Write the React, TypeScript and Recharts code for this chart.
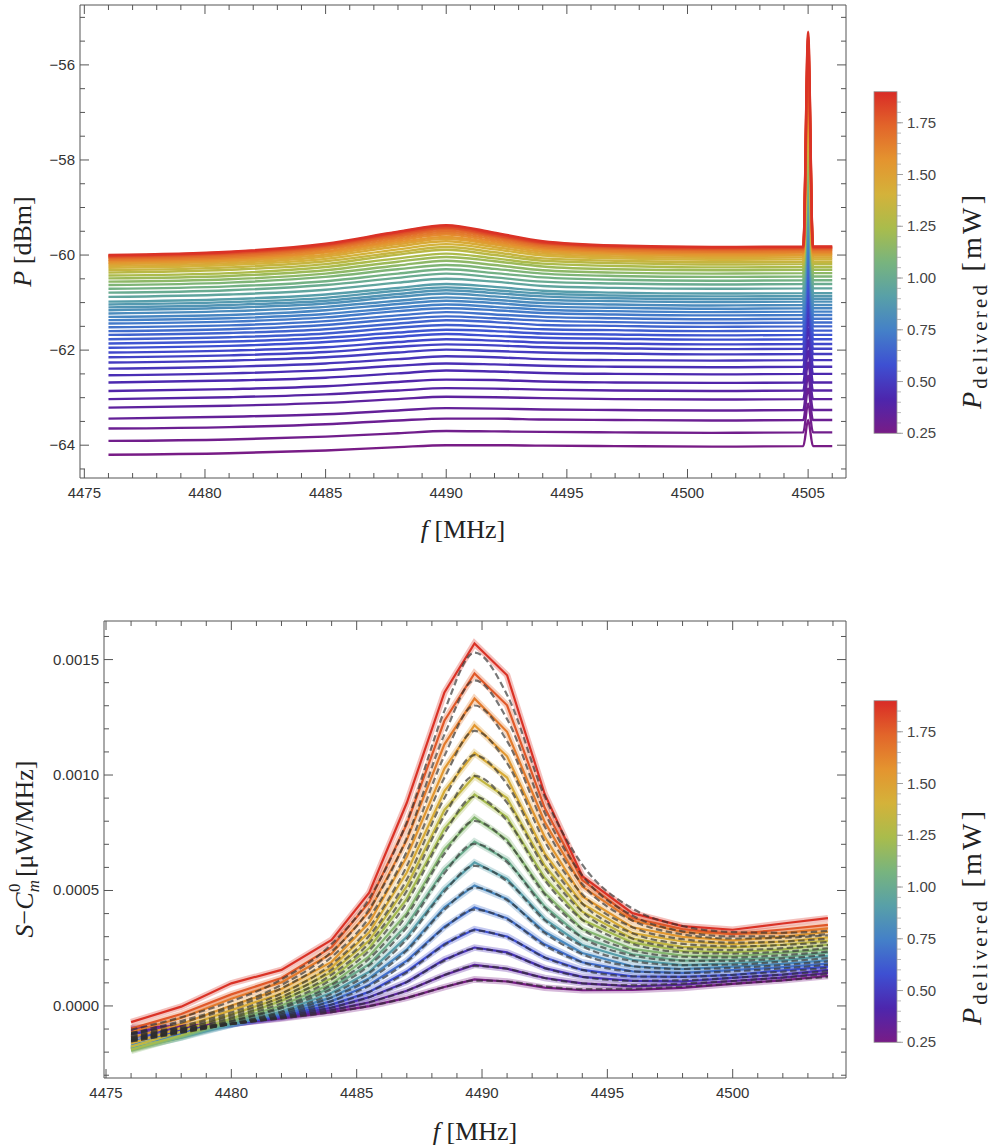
import React from 'react'
import { LineChart, Line, XAxis, YAxis } from 'recharts'

// ---- top panel: received power spectra, one trace per delivered power ----
const topFreqs = [4476, 4481, 4485, 4488, 4490, 4492, 4494, 4497, 4501, 4504.8, 4505, 4505.2, 4506]

const topPowers = [
  0.25, 0.275, 0.3, 0.325, 0.35, 0.375, 0.4, 0.425, 0.45, 0.475, 0.5, 0.525, 0.55, 0.575, 0.6, 0.625,
  0.65, 0.675, 0.7, 0.725, 0.75, 0.775, 0.8, 0.825, 0.85, 0.875, 0.9, 0.95, 1.0, 1.05, 1.1, 1.15,
  1.2, 1.25, 1.3, 1.35, 1.4, 1.45, 1.5, 1.55, 1.6, 1.65, 1.7, 1.75, 1.8, 1.85, 1.88,
]

// dBm, one row per trace, columns follow topFreqs
const topTraces = [
  [-64.20, -64.17, -64.11, -64.04, -64.00, -64.00, -64.01, -64.02, -64.03, -64.02, -63.47, -64.02, -64.02],
  [-63.91, -63.88, -63.82, -63.75, -63.70, -63.71, -63.72, -63.73, -63.74, -63.73, -63.12, -63.73, -63.73],
  [-63.65, -63.62, -63.56, -63.48, -63.44, -63.44, -63.46, -63.47, -63.48, -63.47, -62.81, -63.47, -63.47],
  [-63.44, -63.40, -63.35, -63.27, -63.22, -63.23, -63.25, -63.26, -63.27, -63.26, -62.54, -63.26, -63.26],
  [-63.21, -63.17, -63.11, -63.03, -62.98, -62.99, -63.01, -63.03, -63.04, -63.03, -62.26, -63.03, -63.03],
  [-63.03, -62.99, -62.93, -62.85, -62.80, -62.81, -62.83, -62.85, -62.86, -62.85, -62.02, -62.85, -62.85],
  [-62.86, -62.82, -62.76, -62.67, -62.62, -62.63, -62.66, -62.68, -62.69, -62.68, -61.79, -62.68, -62.68],
  [-62.68, -62.64, -62.58, -62.49, -62.43, -62.45, -62.48, -62.50, -62.51, -62.50, -61.55, -62.50, -62.50],
  [-62.53, -62.49, -62.42, -62.33, -62.28, -62.30, -62.33, -62.35, -62.36, -62.35, -61.34, -62.35, -62.35],
  [-62.39, -62.35, -62.28, -62.19, -62.13, -62.15, -62.19, -62.21, -62.22, -62.21, -61.14, -62.21, -62.21],
  [-62.26, -62.22, -62.15, -62.05, -61.99, -62.02, -62.05, -62.07, -62.09, -62.08, -60.96, -62.08, -62.08],
  [-62.15, -62.11, -62.04, -61.93, -61.88, -61.90, -61.94, -61.96, -61.98, -61.97, -60.78, -61.97, -61.97],
  [-62.05, -62.01, -61.94, -61.83, -61.77, -61.80, -61.84, -61.86, -61.88, -61.87, -60.62, -61.87, -61.87],
  [-61.95, -61.91, -61.83, -61.72, -61.66, -61.70, -61.74, -61.76, -61.78, -61.77, -60.46, -61.77, -61.77],
  [-61.86, -61.82, -61.74, -61.63, -61.57, -61.60, -61.65, -61.67, -61.69, -61.68, -60.31, -61.68, -61.68],
  [-61.77, -61.73, -61.65, -61.53, -61.47, -61.51, -61.56, -61.58, -61.60, -61.59, -60.15, -61.59, -61.59],
  [-61.68, -61.64, -61.56, -61.44, -61.37, -61.41, -61.47, -61.49, -61.51, -61.50, -60.00, -61.50, -61.50],
  [-61.60, -61.56, -61.47, -61.35, -61.29, -61.33, -61.38, -61.41, -61.43, -61.42, -59.86, -61.42, -61.42],
  [-61.52, -61.48, -61.39, -61.27, -61.20, -61.25, -61.30, -61.33, -61.35, -61.34, -59.72, -61.34, -61.34],
  [-61.44, -61.40, -61.31, -61.18, -61.12, -61.16, -61.22, -61.25, -61.27, -61.26, -59.58, -61.26, -61.26],
  [-61.37, -61.33, -61.24, -61.11, -61.04, -61.09, -61.15, -61.18, -61.20, -61.19, -59.45, -61.19, -61.19],
  [-61.30, -61.26, -61.16, -61.03, -60.96, -61.01, -61.08, -61.11, -61.13, -61.12, -59.32, -61.12, -61.12],
  [-61.23, -61.18, -61.09, -60.96, -60.89, -60.94, -61.01, -61.04, -61.06, -61.05, -59.19, -61.05, -61.05],
  [-61.16, -61.11, -61.02, -60.88, -60.81, -60.87, -60.94, -60.97, -60.99, -60.98, -59.06, -60.98, -60.98],
  [-61.10, -61.05, -60.96, -60.82, -60.74, -60.80, -60.87, -60.91, -60.93, -60.92, -58.94, -60.92, -60.92],
  [-61.04, -60.99, -60.90, -60.75, -60.68, -60.74, -60.81, -60.85, -60.87, -60.86, -58.82, -60.86, -60.86],
  [-60.98, -60.93, -60.83, -60.69, -60.61, -60.67, -60.75, -60.79, -60.81, -60.80, -58.70, -60.80, -60.80],
  [-60.88, -60.83, -60.73, -60.58, -60.50, -60.56, -60.65, -60.69, -60.71, -60.70, -58.47, -60.70, -60.70],
  [-60.79, -60.74, -60.63, -60.48, -60.39, -60.47, -60.56, -60.60, -60.62, -60.61, -58.26, -60.61, -60.61],
  [-60.71, -60.66, -60.55, -60.39, -60.30, -60.38, -60.47, -60.52, -60.54, -60.53, -58.05, -60.53, -60.53],
  [-60.63, -60.58, -60.46, -60.30, -60.21, -60.29, -60.39, -60.44, -60.46, -60.45, -57.85, -60.45, -60.45],
  [-60.56, -60.51, -60.39, -60.22, -60.12, -60.21, -60.32, -60.37, -60.39, -60.38, -57.66, -60.38, -60.38],
  [-60.49, -60.44, -60.32, -60.14, -60.04, -60.13, -60.24, -60.30, -60.32, -60.31, -57.46, -60.31, -60.31],
  [-60.43, -60.38, -60.25, -60.07, -59.97, -60.07, -60.18, -60.23, -60.26, -60.25, -57.28, -60.25, -60.25],
  [-60.37, -60.31, -60.19, -59.99, -59.89, -60.00, -60.12, -60.17, -60.20, -60.19, -57.10, -60.19, -60.19],
  [-60.32, -60.26, -60.13, -59.94, -59.83, -59.94, -60.07, -60.12, -60.15, -60.14, -56.93, -60.14, -60.14],
  [-60.27, -60.21, -60.08, -59.88, -59.77, -59.88, -60.01, -60.07, -60.10, -60.09, -56.75, -60.09, -60.09],
  [-60.23, -60.17, -60.03, -59.82, -59.71, -59.83, -59.97, -60.03, -60.06, -60.05, -56.59, -60.05, -60.05],
  [-60.19, -60.13, -59.99, -59.77, -59.66, -59.78, -59.93, -59.99, -60.02, -60.01, -56.43, -60.01, -60.01],
  [-60.16, -60.10, -59.95, -59.73, -59.62, -59.75, -59.89, -59.96, -59.99, -59.98, -56.27, -59.98, -59.98],
  [-60.13, -60.07, -59.92, -59.69, -59.57, -59.71, -59.86, -59.93, -59.96, -59.95, -56.12, -59.95, -59.95],
  [-60.10, -60.04, -59.88, -59.65, -59.53, -59.67, -59.83, -59.90, -59.93, -59.92, -55.96, -59.92, -59.92],
  [-60.07, -60.01, -59.85, -59.61, -59.49, -59.63, -59.80, -59.87, -59.90, -59.89, -55.81, -59.89, -59.89],
  [-60.05, -59.98, -59.82, -59.58, -59.45, -59.60, -59.77, -59.85, -59.88, -59.87, -55.67, -59.87, -59.87],
  [-60.03, -59.96, -59.80, -59.55, -59.42, -59.58, -59.75, -59.83, -59.86, -59.85, -55.53, -59.85, -59.85],
  [-60.01, -59.94, -59.78, -59.52, -59.39, -59.55, -59.73, -59.81, -59.84, -59.83, -55.39, -59.83, -59.83],
  [-60.00, -59.93, -59.76, -59.51, -59.37, -59.53, -59.71, -59.80, -59.83, -59.82, -55.30, -59.82, -59.82],
]

const topXMajor = [4475, 4480, 4485, 4490, 4495, 4500, 4505]
const topYMajor = [-64, -62, -60, -58, -56]

// ---- bottom panel: excess spectral density, measured + fitted ----
const bottomFreqs = [4476, 4478, 4480, 4482, 4484, 4485.5, 4487, 4488.5, 4489.7, 4491, 4492.5, 4494, 4496, 4498, 4500, 4502, 4503.8]

const bottomPowers = [0.25, 0.359, 0.467, 0.576, 0.685, 0.793, 0.902, 1.011, 1.12, 1.228, 1.337, 1.446, 1.554, 1.663, 1.772, 1.88]

// in 1e-6 µW/MHz
const bottomMeasured = [
  [-95, -86, -76, -54, -27, -1, 35, 82, 115, 106, 79, 68, 69, 78, 96, 111, 130],
  [-107, -96, -78, -51, -18, 16, 66, 134, 178, 161, 121, 98, 85, 92, 108, 123, 143],
  [-119, -105, -78, -47, -7, 38, 104, 201, 253, 232, 164, 126, 109, 106, 122, 136, 156],
  [-135, -113, -79, -43, 6, 61, 150, 268, 332, 301, 210, 156, 128, 126, 135, 154, 170],
  [-151, -122, -78, -37, 21, 92, 196, 343, 427, 380, 267, 189, 150, 143, 155, 168, 183],
  [-167, -129, -82, -30, 37, 120, 245, 427, 522, 463, 321, 229, 172, 160, 170, 182, 198],
  [-183, -137, -81, -24, 57, 148, 299, 506, 622, 550, 376, 264, 200, 177, 184, 197, 217],
  [-188, -136, -72, -10, 79, 181, 351, 591, 712, 633, 431, 296, 224, 196, 200, 211, 231],
  [-194, -133, -65, 2, 96, 215, 402, 679, 816, 720, 489, 333, 247, 218, 215, 230, 245],
  [-189, -127, -55, 22, 120, 251, 464, 768, 916, 817, 555, 373, 274, 238, 232, 245, 265],
  [-176, -111, -37, 36, 146, 283, 519, 849, 996, 900, 608, 408, 292, 256, 252, 265, 283],
  [-162, -95, -18, 54, 167, 319, 578, 930, 1096, 989, 661, 443, 315, 279, 268, 279, 297],
  [-137, -78, 2, 74, 191, 360, 646, 1028, 1216, 1081, 732, 474, 341, 299, 284, 299, 321],
  [-113, -52, 31, 102, 227, 408, 719, 1133, 1331, 1187, 797, 517, 370, 320, 312, 315, 336],
  [-98, -35, 50, 121, 255, 449, 788, 1235, 1440, 1302, 858, 545, 381, 333, 311, 331, 351],
  [-70, -3, 98, 156, 286, 490, 880, 1358, 1570, 1432, 918, 562, 402, 346, 330, 357, 380],
]

const bottomFits = [
  [-115, -96, -76, -54, -27, -1, 35, 82, 110, 106, 84, 73, 74, 83, 96, 111, 125],
  [-122, -101, -78, -51, -18, 16, 66, 134, 173, 161, 121, 98, 90, 97, 108, 123, 138],
  [-129, -105, -78, -47, -7, 38, 104, 196, 248, 227, 164, 126, 109, 111, 122, 136, 151],
  [-135, -108, -79, -43, 6, 61, 145, 263, 327, 296, 210, 156, 128, 126, 135, 149, 165],
  [-141, -112, -78, -37, 21, 87, 191, 338, 417, 375, 262, 189, 150, 143, 150, 163, 178],
  [-147, -114, -77, -30, 37, 115, 240, 417, 512, 458, 316, 224, 172, 160, 165, 177, 193],
  [-153, -117, -76, -24, 52, 143, 289, 496, 607, 540, 371, 259, 195, 177, 179, 192, 207],
  [-148, -111, -67, -10, 74, 176, 341, 576, 702, 623, 426, 296, 219, 196, 195, 206, 221],
  [-154, -113, -65, -3, 91, 205, 392, 659, 801, 710, 484, 333, 242, 213, 210, 220, 235],
  [-149, -107, -55, 12, 115, 241, 449, 748, 906, 802, 545, 373, 269, 233, 227, 235, 250],
  [-146, -101, -47, 26, 136, 273, 499, 824, 996, 880, 598, 408, 292, 251, 242, 250, 263],
  [-142, -95, -38, 39, 157, 304, 548, 900, 1086, 959, 651, 443, 315, 269, 258, 264, 277],
  [-137, -88, -28, 54, 181, 340, 606, 988, 1191, 1051, 712, 484, 341, 289, 274, 279, 291],
  [-123, -72, -9, 77, 212, 383, 669, 1083, 1301, 1147, 777, 527, 370, 310, 292, 295, 306],
  [-118, -65, 0, 91, 235, 419, 728, 1175, 1410, 1242, 838, 565, 391, 323, 301, 301, 311],
  [-103, -49, 20, 115, 268, 465, 797, 1278, 1530, 1347, 908, 612, 422, 346, 320, 317, 325],
]

const bottomXMajor = [4475, 4480, 4485, 4490, 4495, 4500]
const bottomYMajor = [0, 0.0005, 0.001, 0.0015]

const colorbarLabels = [0.25, 0.5, 0.75, 1.0, 1.25, 1.5, 1.75]

// Mathematica-like "Rainbow"
const rainbowStops: [number, string][] = [
  [0, '#781c86'], [0.1, '#4d26ad'], [0.2, '#3e50d2'], [0.3, '#4480c8'], [0.4, '#58a0a8'],
  [0.5, '#78b47e'], [0.6, '#a9bc4c'], [0.7, '#d4b23a'], [0.8, '#e4942f'], [0.9, '#e2652a'], [1, '#d92b26'],
]
const P_MIN = 0.25
const P_MAX = 1.9

function hex(c: string) {
  return [1, 3, 5].map((i) => parseInt(c.slice(i, i + 2), 16))
}
function rainbow(p: number) {
  const t = Math.min(1, Math.max(0, (p - P_MIN) / (P_MAX - P_MIN)))
  for (let i = 1; i < rainbowStops.length; i++) {
    const [t1, c1] = rainbowStops[i]
    if (t <= t1) {
      const [t0, c0] = rainbowStops[i - 1]
      const u = (t - t0) / (t1 - t0)
      const a = hex(c0)
      const b = hex(c1)
      return `rgb(${a.map((v, k) => Math.round(v + (b[k] - v) * u)).join(',')})`
    }
  }
  return rainbowStops[rainbowStops.length - 1][1]
}

const steps = (from: number, to: number, n: number) =>
  Array.from({ length: n + 1 }, (_, i) => from + ((to - from) * i) / n)

const topXTicks = steps(4475, 4506, 31)
const topYTicks = steps(-64.5, -55, 19).map((v) => Math.round(v * 10) / 10)
const bottomXTicks = steps(4475, 4504, 29)
const bottomYTicks = steps(-3, 16, 19).map((v) => Math.round(v) / 10000)

const topData = topFreqs.map((f, j) => {
  const row: Record<string, number> = { f }
  topTraces.forEach((tr, i) => { row['p' + i] = tr[j] })
  return row
})

const bottomData = bottomFreqs.map((f, j) => {
  const row: Record<string, number> = { f }
  bottomMeasured.forEach((tr, i) => { row['m' + i] = tr[j] * 1e-6 })
  bottomFits.forEach((tr, i) => { row['fit' + i] = tr[j] * 1e-6 })
  return row
})

const INK = '#555'
const SANS = '"Liberation Sans", Arial, sans-serif'
const SERIF = '"Liberation Serif", "Times New Roman", serif'

type Side = 'bottom' | 'top' | 'left' | 'right'

function frameTick(side: Side, majors: number[], fmt?: (v: number) => string) {
  return (props: any) => {
    const { x, y, payload } = props
    const v = payload.value as number
    const major = majors.some((m) => Math.abs(m - v) < 1e-9)
    const len = major ? 9 : 5
    let line
    if (side === 'bottom') line = <line x1={x} y1={y} x2={x} y2={y - len} />
    else if (side === 'top') line = <line x1={x} y1={y} x2={x} y2={y + len} />
    else if (side === 'left') line = <line x1={x} y1={y} x2={x + len} y2={y} />
    else line = <line x1={x} y1={y} x2={x - len} y2={y} />
    return (
      <g>
        <g stroke={INK} strokeWidth={1}>{line}</g>
        {major && fmt && side === 'bottom' && (
          <text x={x} y={y + 20} textAnchor="middle" fontFamily={SANS} fontSize={15} fill="#333">{fmt(v)}</text>
        )}
        {major && fmt && side === 'left' && (
          <text x={x - 5} y={y + 5} textAnchor="end" fontFamily={SANS} fontSize={15} fill="#333">{fmt(v)}</text>
        )}
      </g>
    )
  }
}

// axes are 1px thick so Recharts still draws them; margins make up the rest
const axisCommon = {
  interval: 0 as const,
  tickSize: 0,
  tickMargin: 0,
  allowDataOverflow: true,
  axisLine: { stroke: INK, strokeWidth: 1 },
}

function Colorbar({ id, top, bottom }: { id: string; top: number; bottom: number }) {
  const x = 874
  const w = 23
  const yOf = (v: number) => bottom - ((v - P_MIN) / (P_MAX - P_MIN)) * (bottom - top)
  const minor = steps(0.25, 1.85, 32)
  return (
    <g>
      <defs>
        <linearGradient id={id} x1="0" y1="1" x2="0" y2="0">
          {rainbowStops.map(([t, c]) => <stop key={t} offset={t} stopColor={c} />)}
        </linearGradient>
      </defs>
      <rect x={x} y={top} width={w} height={bottom - top} fill={`url(#${id})`} stroke="#999" strokeWidth={0.8} />
      {minor.map((v) => (
        <line key={v} x1={x + w} x2={x + w + 4} y1={yOf(v)} y2={yOf(v)} stroke="#aaa" strokeWidth={0.8} />
      ))}
      {colorbarLabels.map((v) => (
        <g key={v}>
          <line x1={x + w} x2={x + w + 6} y1={yOf(v)} y2={yOf(v)} stroke="#999" strokeWidth={0.9} />
          <text x={x + w + 10} y={yOf(v) + 5} fontFamily={SANS} fontSize={15} fill="#444">{v.toFixed(2)}</text>
        </g>
      ))}
    </g>
  )
}

function CbTitle({ x, y }: { x: number; y: number }) {
  return (
    <text transform={`translate(${x},${y}) rotate(-90)`} textAnchor="middle" fontFamily={SERIF} fontSize={28} fill="#222"
      textLength={214} lengthAdjust="spacing">
      <tspan fontStyle="italic">P</tspan>
      <tspan fontSize={21} dy={6}>delivered</tspan>
      <tspan dy={-6}> [mW]</tspan>
    </text>
  )
}

export default function App() {
  return (
    <div style={{ position: 'relative', width: 995, height: 1148, background: '#fff' }}>
      <style>{'body{margin:0}'}</style>

      <div style={{ position: 'absolute', left: 0, top: 0 }}>
        <LineChart width={995} height={560} data={topData} margin={{ top: 4, left: 79, right: 148, bottom: 81 }}>
          <XAxis xAxisId="b" dataKey="f" type="number" domain={[4474.82, 4506.57]} ticks={topXTicks} height={1}
            tick={frameTick('bottom', topXMajor, (v) => String(v))} {...axisCommon} />
          <XAxis xAxisId="t" dataKey="f" type="number" orientation="top" domain={[4474.82, 4506.57]} ticks={topXTicks} height={1}
            tick={frameTick('top', topXMajor)} {...axisCommon} />
          <YAxis yAxisId="l" type="number" domain={[-64.69, -54.74]} ticks={topYTicks} width={1}
            tick={frameTick('left', topYMajor, (v) => '\u2212' + Math.abs(v))} {...axisCommon} />
          <YAxis yAxisId="r" type="number" orientation="right" domain={[-64.69, -54.74]} ticks={topYTicks} width={1}
            tick={frameTick('right', topYMajor)} {...axisCommon} />
          {topTraces.map((_, i) => (
            <Line key={i} xAxisId="b" yAxisId="l" type="monotone" dataKey={'p' + i} stroke={rainbow(topPowers[i])}
              strokeWidth={2.4} dot={false} activeDot={false} isAnimationActive={false} />
          ))}
        </LineChart>
      </div>

      <div style={{ position: 'absolute', left: 0, top: 560 }}>
        <LineChart width={995} height={588} data={bottomData} margin={{ top: 60, left: 103, right: 148, bottom: 69 }}>
          <XAxis xAxisId="b" dataKey="f" type="number" domain={[4474.92, 4504.52]} ticks={bottomXTicks} height={1}
            tick={frameTick('bottom', bottomXMajor, (v) => String(v))} {...axisCommon} />
          <XAxis xAxisId="t" dataKey="f" type="number" orientation="top" domain={[4474.92, 4504.52]} ticks={bottomXTicks} height={1}
            tick={frameTick('top', bottomXMajor)} {...axisCommon} />
          <YAxis yAxisId="l" type="number" domain={[-0.000312, 0.001667]} ticks={bottomYTicks} width={1}
            tick={frameTick('left', bottomYMajor, (v) => v.toFixed(4))} {...axisCommon} />
          <YAxis yAxisId="r" type="number" orientation="right" domain={[-0.000312, 0.001667]} ticks={bottomYTicks} width={1}
            tick={frameTick('right', bottomYMajor)} {...axisCommon} />
          {bottomMeasured.map((_, i) => (
            <Line key={'band' + i} xAxisId="b" yAxisId="l" type="linear" dataKey={'m' + i} stroke={rainbow(bottomPowers[i])}
              strokeWidth={6.5} strokeOpacity={0.3} dot={false} activeDot={false} isAnimationActive={false} />
          ))}
          {bottomMeasured.map((_, i) => (
            <Line key={'m' + i} xAxisId="b" yAxisId="l" type="linear" dataKey={'m' + i} stroke={rainbow(bottomPowers[i])}
              strokeWidth={2.2} dot={false} activeDot={false} isAnimationActive={false} />
          ))}
          {bottomFits.map((_, i) => (
            <Line key={'fit' + i} xAxisId="b" yAxisId="l" type="monotone" dataKey={'fit' + i} stroke="#2e2e2e"
              strokeOpacity={0.65} strokeWidth={2.2} strokeDasharray="6.5 3.5" dot={false} activeDot={false} isAnimationActive={false} />
          ))}
        </LineChart>
      </div>

      <svg width={995} height={1148} style={{ position: 'absolute', left: 0, top: 0, pointerEvents: 'none' }}>
        <text transform="translate(31,241.5) rotate(-90)" textAnchor="middle" fontFamily={SERIF} fontSize={26} fill="#222">
          <tspan fontStyle="italic">P</tspan> [dBm]
        </text>
        <text x={463} y={538} textAnchor="middle" fontFamily={SERIF} fontSize={26} fill="#222">
          <tspan fontStyle="italic">f</tspan> [MHz]
        </text>

        <text transform="translate(33,849) rotate(-90)" textAnchor="middle" fontFamily={SERIF} fontSize={26} fill="#222">
          <tspan fontStyle="italic">S</tspan>
          <tspan>{'\u2212'}</tspan>
          <tspan fontStyle="italic">C</tspan>
          <tspan fontSize={17} fontStyle="italic" dy={6}>m</tspan>
          <tspan fontSize={17} dx={-12} dy={-19}>0</tspan>
          <tspan dy={13}> [μW/MHz]</tspan>
        </text>
        <text x={475} y={1140} textAnchor="middle" fontFamily={SERIF} fontSize={26} fill="#222">
          <tspan fontStyle="italic">f</tspan> [MHz]
        </text>

        <Colorbar id="cb-top" top={91.7} bottom={433.3} />
        <CbTitle x={981} y={302} />
        <Colorbar id="cb-bottom" top={700.7} bottom={1042.3} />
        <CbTitle x={981} y={918} />
      </svg>
    </div>
  )
}
